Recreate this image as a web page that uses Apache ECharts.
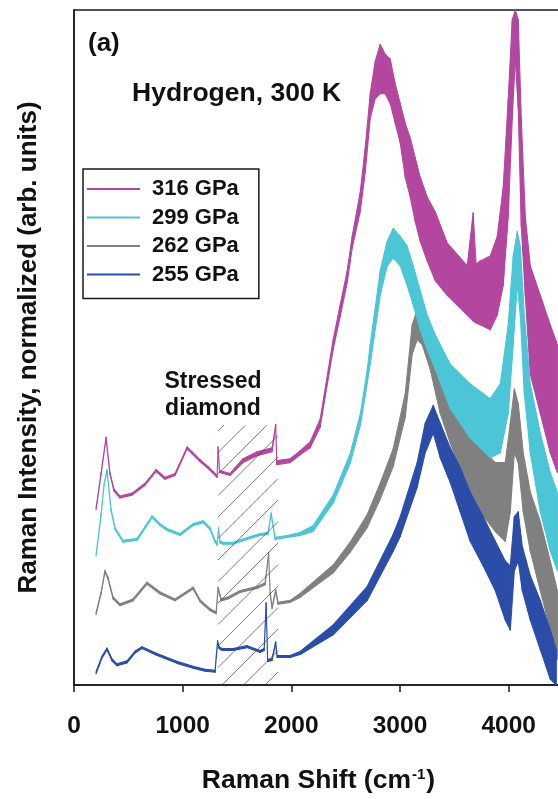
<!DOCTYPE html>
<html>
<head>
<meta charset="utf-8">
<script src="https://cdn.jsdelivr.net/npm/echarts@6/dist/echarts.min.js"></script>
<style>
  html, body { margin: 0; padding: 0; overflow: hidden; background: #fff; }
  #chart { width: 600px; height: 799px; }
</style>
</head>
<body>
<div id="chart"></div>
<script>
// Raman spectra of hydrogen at 300 K; each point is [shift (cm-1), low, high]
// where low/high bound the noise band of the recorded spectrum (arb. units).
const pressures = ['316 GPa', '299 GPa', '262 GPa', '255 GPa'];
const lineColors = ['#B3479F', '#4CC6D6', '#808080', '#2B4DA8'];
const drawOrder = [2, 4, 3, 5];   // stacking order of the four spectra

const p316 = [[203,1.78,1.80],[249,2.14,2.16],[295,2.50,2.52],[331,2.14,2.16],[368,1.97,1.99],[424,1.90,1.92],[534,1.93,1.95],[654,2.03,2.05],[755,2.17,2.19],[838,2.09,2.11],[930,2.13,2.15],[1041,2.40,2.42],[1160,2.27,2.29],[1234,2.20,2.22],[1317,2.11,2.13],[1326,2.40,2.42],[1340,2.16,2.18],[1372,2.15,2.17],[1436,2.13,2.15],[1556,2.26,2.30],[1685,2.33,2.37],[1823,2.37,2.41],[1856,2.63,2.65],[1866,2.24,2.28],[1989,2.26,2.30],[2081,2.34,2.38],[2173,2.41,2.47],[2265,2.62,2.70],[2385,3.41,3.51],[2449,3.74,3.86],[2514,4.09,4.21],[2560,4.44,4.56],[2634,4.81,5.01],[2680,5.21,5.46],[2726,5.76,6.01],[2772,5.96,6.34],[2818,6.01,6.51],[2864,6.01,6.41],[2910,5.91,6.36],[2956,5.71,6.11],[3002,5.51,5.91],[3048,5.16,5.71],[3094,4.96,5.56],[3140,4.71,5.36],[3186,4.51,5.16],[3250,4.31,4.96],[3324,4.11,4.81],[3435,3.96,4.49],[3619,3.76,4.26],[3673,3.70,4.80],[3700,3.68,4.28],[3738,3.66,4.31],[3831,3.61,4.36],[3895,3.76,4.56],[3950,4.06,5.06],[3996,4.76,5.96],[4033,5.76,6.76],[4061,6.36,6.86],[4088,5.86,6.76],[4116,4.66,5.76],[4153,3.96,4.76],[4199,3.16,4.26],[4291,2.76,3.96],[4383,2.36,3.66],[4448,2.16,3.46]];

const p299 = [[203,1.31,1.33],[249,1.72,1.74],[276,2.02,2.04],[304,2.17,2.19],[341,1.77,1.79],[378,1.58,1.60],[451,1.45,1.47],[580,1.47,1.49],[654,1.59,1.61],[718,1.70,1.72],[792,1.62,1.64],[856,1.57,1.59],[976,1.52,1.54],[1096,1.62,1.64],[1188,1.65,1.67],[1252,1.58,1.60],[1298,1.45,1.47],[1317,1.42,1.44],[1330,1.58,1.60],[1344,1.44,1.46],[1372,1.43,1.45],[1464,1.43,1.45],[1593,1.48,1.50],[1713,1.52,1.54],[1786,1.53,1.55],[1814,1.73,1.75],[1851,1.48,1.50],[1961,1.50,1.52],[2081,1.52,1.55],[2201,1.56,1.62],[2385,1.85,1.93],[2541,2.25,2.35],[2634,2.63,2.75],[2698,3.06,3.20],[2726,3.26,3.46],[2818,3.96,4.21],[2882,4.26,4.51],[2937,4.34,4.64],[3002,4.26,4.56],[3066,4.06,4.46],[3122,3.86,4.26],[3186,3.61,4.01],[3250,3.41,3.76],[3324,3.21,3.56],[3462,2.81,3.26],[3646,2.51,3.06],[3831,2.31,2.91],[3923,2.36,3.06],[3996,2.76,3.66],[4042,3.46,4.36],[4079,4.06,4.61],[4107,3.76,4.46],[4144,2.96,3.76],[4199,2.36,3.06],[4291,1.76,2.56],[4383,1.36,2.16],[4448,1.16,1.96]];

const p262 = [[203,0.715,0.735],[249,0.925,0.945],[285,1.145,1.165],[313,1.075,1.095],[359,0.875,0.895],[424,0.805,0.825],[543,0.855,0.875],[672,1.025,1.045],[792,0.925,0.945],[930,0.855,0.875],[1096,0.975,0.995],[1160,0.845,0.865],[1252,0.755,0.775],[1308,0.725,0.745],[1326,0.975,0.995],[1354,0.855,0.875],[1418,0.875,0.895],[1529,0.94,0.96],[1685,0.98,1.00],[1759,1.02,1.04],[1791,1.325,1.345],[1805,0.92,0.94],[1823,0.775,0.795],[1856,0.95,0.97],[1878,0.82,0.84],[1989,0.84,0.86],[2081,0.89,0.93],[2385,1.14,1.22],[2541,1.35,1.45],[2698,1.60,1.73],[2818,1.89,2.05],[2937,2.22,2.40],[3048,2.72,2.96],[3112,3.36,3.66],[3158,3.51,3.81],[3204,3.46,3.74],[3278,3.21,3.51],[3370,2.76,3.11],[3462,2.46,2.86],[3600,2.06,2.61],[3738,1.76,2.41],[3877,1.56,2.26],[3969,1.46,2.26],[4015,1.76,2.66],[4052,2.36,3.01],[4088,2.26,2.86],[4134,1.76,2.36],[4199,1.36,1.96],[4291,0.96,1.66],[4383,0.56,1.26],[4448,0.26,0.96]];

const p255 = [[203,0.115,0.135],[258,0.275,0.295],[304,0.355,0.375],[350,0.245,0.265],[396,0.195,0.215],[488,0.225,0.245],[562,0.325,0.345],[626,0.37,0.39],[764,0.30,0.32],[948,0.22,0.24],[1096,0.17,0.19],[1206,0.14,0.16],[1298,0.13,0.15],[1321,0.43,0.45],[1335,0.37,0.39],[1363,0.35,0.37],[1464,0.35,0.37],[1593,0.38,0.40],[1713,0.33,0.35],[1750,0.35,0.37],[1768,0.815,0.835],[1782,0.24,0.26],[1823,0.25,0.27],[1856,0.42,0.44],[1869,0.28,0.30],[1989,0.28,0.30],[2081,0.31,0.34],[2385,0.51,0.61],[2698,0.86,1.00],[2937,1.36,1.53],[3002,1.51,1.71],[3158,2.01,2.26],[3232,2.36,2.66],[3306,2.56,2.84],[3370,2.31,2.66],[3462,2.06,2.41],[3554,1.76,2.21],[3646,1.46,1.96],[3766,1.21,1.71],[3877,0.96,1.46],[3969,0.66,1.26],[4015,0.56,1.21],[4052,1.16,1.71],[4088,1.26,1.76],[4125,0.96,1.41],[4199,0.66,1.11],[4291,0.36,0.86],[4383,0.06,0.56],[4438,0.00,0.36]];

const spectra = [p316, p299, p262, p255];

// Shaded band of the stressed-diamond first-order Raman signal
const diamondBand = [1326, 1878];   // shift range, cm-1
const diamondBandTop = 2.64;        // upper limit of the hatching, arb. units

const xTicks = { min: 0, max: 4500, step: 1000 };
const yRange = { min: 0, max: 6.86 };

const FONT = '"Liberation Sans", Arial, Helvetica, sans-serif';
const INK = '#111';

const chart = echarts.init(document.getElementById('chart'), null, { renderer: 'canvas' });

// A spectrum is drawn as its noise band: one filled quad per pair of samples
function spectrumSeries(name, pts, color, z) {
  return {
    name, type: 'custom', z, silent: true, animation: false,
    itemStyle: { color },
    encode: { x: 0, y: [1, 2] },
    data: pts,
    renderItem(params, api) {
      const i = params.dataIndex;
      if (i >= pts.length - 1) return null;
      const a = pts[i], b = pts[i + 1];
      const points = [
        api.coord([a[0], a[1]]), api.coord([b[0], b[1]]),
        api.coord([b[0], b[2]]), api.coord([a[0], a[2]])
      ];
      return {
        type: 'polygon',
        shape: { points },
        style: { fill: color, stroke: color, lineWidth: 1.1, lineJoin: 'round' }
      };
    }
  };
}

const series = spectra.map((pts, i) => spectrumSeries(pressures[i], pts, lineColors[i], drawOrder[i]));

// Diagonal hatching over the diamond window
series.push({
  type: 'custom', silent: true, z: 20, animation: false,
  data: [[diamondBand[0], diamondBand[1], diamondBandTop]],
  encode: { x: [0, 1], y: 2 },
  renderItem(params, api) {
    const bl = api.coord([api.value(0), 0]);
    const tr = api.coord([api.value(1), api.value(2)]);
    const x0 = bl[0], x1 = tr[0], yb = bl[1] - 1, yt = tr[1];
    const step = 21.5;
    let c = x0 + yb + 5;
    while (c - step > x0 + yt) c -= step;
    const children = [];
    for (; c < x1 + yb; c += step) {
      const xs = Math.max(x0, c - yb);
      const xe = Math.min(x1, c - yt);
      if (xe - xs < 1) continue;
      children.push({
        type: 'line',
        shape: { x1: xs, y1: c - xs, x2: xe, y2: c - xe },
        style: { stroke: '#444', lineWidth: 0.7 }
      });
    }
    return { type: 'group', children };
  }
});

chart.setOption({
  animation: false,
  backgroundColor: '#fff',
  grid: {
    left: 74, right: 37, top: 10, bottom: 103,
    show: true, borderColor: '#1a1a1a', borderWidth: 1.5, backgroundColor: 'transparent'
  },
  legend: {
    data: pressures,
    orient: 'vertical',
    left: 83, top: 169,
    icon: 'rect', itemWidth: 53, itemHeight: 1.8, itemGap: 6.5,
    padding: [9, 20, 13, 4],
    borderColor: '#1a1a1a', borderWidth: 1.5,
    backgroundColor: '#fff',
    selectedMode: false,
    textStyle: { fontFamily: FONT, fontWeight: 'bold', fontSize: 22, color: INK, lineHeight: 20, padding: [0, 0, 0, 7] }
  },
  xAxis: {
    type: 'value', min: xTicks.min, max: xTicks.max, interval: xTicks.step,
    axisLine: { lineStyle: { color: '#1a1a1a', width: 1.5 } },
    axisTick: { show: true, length: 7, lineStyle: { color: '#1a1a1a', width: 1.5 } },
    splitLine: { show: false },
    axisLabel: { fontFamily: FONT, fontWeight: 'bold', fontSize: 24.5, color: INK, margin: 29,
                 showMaxLabel: false, formatter: v => String(v) },
    name: '{t|Raman Shift (cm}{s|-1}{t|)}',
    nameLocation: 'middle', nameGap: 82,
    nameTextStyle: {
      rich: {
        t: { fontFamily: FONT, fontWeight: 'bold', fontSize: 26.5, color: INK },
        s: { fontFamily: FONT, fontWeight: 'bold', fontSize: 15, color: INK, verticalAlign: 'top', padding: [0, 1, 12, 1] }
      }
    }
  },
  yAxis: {
    type: 'value', min: yRange.min, max: yRange.max,
    axisLine: { show: true, lineStyle: { color: '#1a1a1a', width: 1.5 } },
    axisTick: { show: false }, axisLabel: { show: false }, splitLine: { show: false },
    name: 'Raman Intensity, normalized (arb. units)',
    nameLocation: 'middle', nameGap: 32,
    nameTextStyle: { fontFamily: FONT, fontWeight: 'bold', fontSize: 26, color: INK }
  },
  graphic: [
    { type: 'text', left: 88, top: 31, z: 50,
      style: { text: '(a)', font: 'bold 26px ' + FONT, fill: INK } },
    { type: 'text', left: 132, top: 80, z: 50,
      style: { text: 'Hydrogen, 300 K', font: 'bold 26.5px ' + FONT, fill: INK } },
    { type: 'text', x: 213, y: 368, z: 50,
      style: { text: 'Stressed\ndiamond', font: 'bold 23px ' + FONT, fill: INK,
               align: 'center', verticalAlign: 'top', lineHeight: 27 } }
  ],
  series
});
</script>
</body>
</html>
